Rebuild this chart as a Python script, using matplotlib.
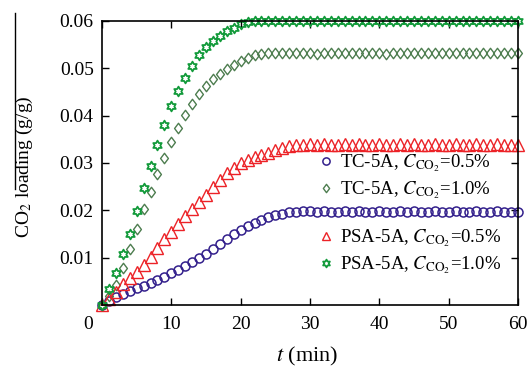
import numpy as np
import matplotlib
matplotlib.use("Agg")
import matplotlib.pyplot as plt
from matplotlib.path import Path
from matplotlib.lines import Line2D
from matplotlib.transforms import ScaledTranslation

# data, one value per minute from t = 0 to 60
tc_05 = [0, 0.0009, 0.0017, 0.0023, 0.0029, 0.0035, 0.0041, 0.0047, 0.0053, 0.0060,
         0.0067, 0.0074, 0.0082, 0.0090, 0.0099, 0.0108, 0.0118, 0.0128, 0.0139, 0.0149,
         0.0158, 0.0166, 0.0173, 0.0179, 0.0185, 0.0189, 0.0193, 0.0196, 0.0197, 0.0198,
         0.0198, 0.0197, 0.0198, 0.0197, 0.0197, 0.0198, 0.0197, 0.0198, 0.0197, 0.0197,
         0.0198, 0.0197, 0.0197, 0.0198, 0.0197, 0.0198, 0.0197, 0.0197, 0.0198, 0.0197,
         0.0197, 0.0198, 0.0197, 0.0197, 0.0198, 0.0197, 0.0197, 0.0198, 0.0197, 0.0197,
         0.0197]
tc_10 = [0, 0.0018, 0.0042, 0.0079, 0.0118, 0.0160, 0.0202, 0.0238, 0.0276, 0.0310,
         0.0345, 0.0373, 0.0401, 0.0425, 0.0446, 0.0463, 0.0477, 0.0488, 0.0498, 0.0507,
         0.0515, 0.0522, 0.0527, 0.0531, 0.0533, 0.0533, 0.0532, 0.0533, 0.0532, 0.0533,
         0.0532, 0.0530, 0.0532, 0.0533, 0.0532, 0.0533, 0.0532, 0.0532, 0.0533, 0.0532,
         0.0533, 0.0531, 0.0532, 0.0533, 0.0532, 0.0533, 0.0532, 0.0533, 0.0532, 0.0533,
         0.0532, 0.0533, 0.0532, 0.0533, 0.0532, 0.0533, 0.0532, 0.0533, 0.0532, 0.0533,
         0.0532]
psa_05 = [0, 0.0012, 0.0028, 0.0044, 0.0057, 0.0070, 0.0085, 0.0102, 0.0121, 0.0139,
          0.0154, 0.0171, 0.0187, 0.0202, 0.0218, 0.0233, 0.0249, 0.0264, 0.0279, 0.0290,
          0.0299, 0.0306, 0.0312, 0.0317, 0.0322, 0.0327, 0.0331, 0.0335, 0.0337, 0.0338,
          0.0339, 0.0338, 0.0339, 0.0338, 0.0338, 0.0339, 0.0338, 0.0339, 0.0338, 0.0338,
          0.0339, 0.0338, 0.0338, 0.0339, 0.0338, 0.0339, 0.0338, 0.0338, 0.0339, 0.0338,
          0.0338, 0.0339, 0.0338, 0.0338, 0.0339, 0.0338, 0.0338, 0.0339, 0.0338, 0.0338,
          0.0338]
psa_10 = [0, 0.0033, 0.0068, 0.0108, 0.0150, 0.0199, 0.0248, 0.0293, 0.0337, 0.0381,
          0.0420, 0.0452, 0.0479, 0.0505, 0.0527, 0.0544, 0.0558, 0.0569, 0.0578, 0.0586,
          0.0593, 0.0597, 0.0599, 0.0600, 0.0600, 0.0599, 0.0600, 0.0599, 0.0600, 0.0599,
          0.0600, 0.0599, 0.0600, 0.0599, 0.0599, 0.0600, 0.0599, 0.0600, 0.0599, 0.0600,
          0.0599, 0.0600, 0.0599, 0.0600, 0.0600, 0.0599, 0.0600, 0.0599, 0.0600, 0.0599,
          0.0600, 0.0599, 0.0600, 0.0599, 0.0600, 0.0599, 0.0600, 0.0599, 0.0600, 0.0599,
          0.0600]

labels = ['TC-5A, $C_{\\mathrm{CO_2}}$=0.5%', 'TC-5A, $C_{\\mathrm{CO_2}}$=1.0%',
          'PSA-5A, $C_{\\mathrm{CO_2}}$=0.5%', 'PSA-5A, $C_{\\mathrm{CO_2}}$=1.0%']
xticks = [0, 10, 20, 30, 40, 50, 60]
yticks = [0.01, 0.02, 0.03, 0.04, 0.05, 0.06]

plt.rcParams['font.family'] = 'Liberation Serif'
plt.rcParams['mathtext.fontset'] = 'stix'

# custom markers: tall diamond and hollow six point star
diamond = Path([(0, 1), (0.75, 0), (0, -1), (-0.75, 0), (0, 1)], closed=True)
ang = np.deg2rad(90 + 30 * np.arange(12))
rad = np.where(np.arange(12) % 2 == 0, 1.0, 0.577)
star6 = Path(np.c_[rad * np.cos(ang), rad * np.sin(ang)].tolist() + [[0, 1]], closed=True)

fig = plt.figure(figsize=(5.27, 3.67), dpi=100)
ax = fig.add_axes([0.1935, 0.169, 0.7895, 0.774])

def curve(y, **kw):
    t = np.arange(len(y))
    return ax.plot(t, y, linestyle='none', fillstyle='none', clip_on=False, **kw)[0]

h1 = curve(tc_05, marker='o', ms=6.5, mew=1.1, color='#33208c')
h2 = curve(tc_10, marker=diamond, ms=7.5, mew=1.0, color='#4d7d4f')
h3 = curve(psa_05, marker='^', ms=8, mew=1.0, color='#ec2227')
h4 = curve(psa_10, marker=star6, ms=7, mew=1.3, color='#129a3a')

ax.set_xlim(0, 60)
ax.set_ylim(0, 0.06)
ax.set_xticks(xticks)
ax.set_yticks(yticks)
ax.set_yticklabels([f'{v:.2f}' for v in yticks])
ax.tick_params(direction='in', top=True, right=True, length=5, width=1, labelsize=14)
ax.tick_params(axis='x', pad=8)
ax.tick_params(axis='y', pad=6)
for s in ax.spines.values():
    s.set_linewidth(1.2)
# the origin label sits left of the corner
lab0 = ax.get_xticklabels()[0]
lab0.set_transform(lab0.get_transform() + ScaledTranslation(-0.14, 0, fig.dpi_scale_trans))

fig.text(0.583, 0.03, '$t$ (min)', ha='center', va='center', fontsize=16)
fig.text(0.046, 0.545, 'CO$_2$ loading (g/g)', rotation=90, ha='center', va='center', fontsize=14)
fig.add_artist(Line2D([0.0285, 0.0285], [0.965, 0.485], color='black', lw=1.0,
                      transform=fig.transFigure))

leg_kw = dict(frameon=False, fontsize=13.5, handlelength=1.0, handletextpad=0.25,
              borderpad=0, borderaxespad=0, labelspacing=0.3, loc='center left',
              markerscale=0.8, bbox_transform=fig.transFigure)
leg1 = ax.legend([h1, h2], labels[:2], bbox_to_anchor=(0.6, 1 - 177 / 367), **leg_kw)
ax.add_artist(leg1)
ax.legend([h3, h4], labels[2:], bbox_to_anchor=(0.6, 1 - 252 / 367), **leg_kw)

fig.savefig('out.png', dpi=100)
